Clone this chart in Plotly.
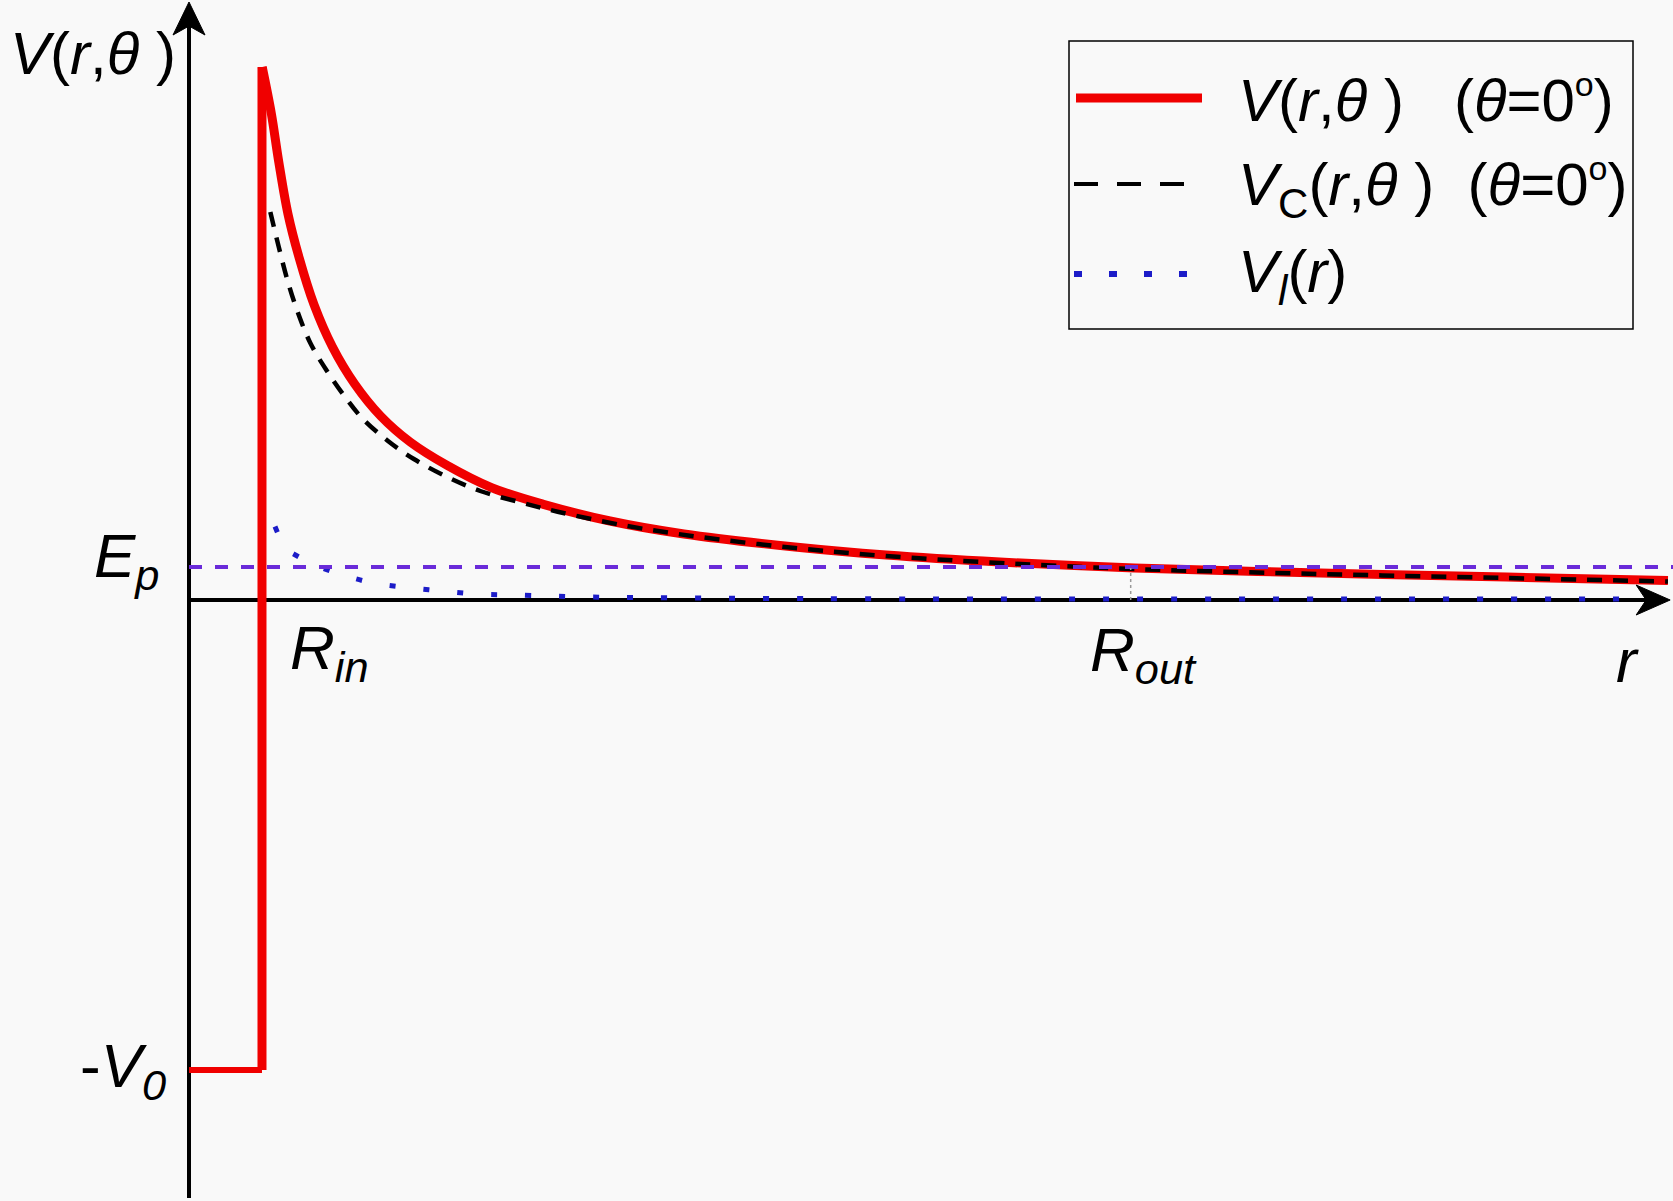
import plotly.graph_objects as go

# ---------------- data ----------------
R_IN = 1.0
R_OUT = 12.9
R_END = 20.29
V0 = 47.0
E_P = 3.3
V_PEAK = 53.3

# well + wall of V(r, theta)
r_well = [0.0, R_IN, R_IN]
V_well = [-V0, -V0, V_PEAK]

# barrier part of V(r, theta)  (theta = 0)
r_V = [1.003, 1.129, 1.23, 1.356, 1.51, 1.712, 1.966, 2.27, 2.625, 3.03, 3.537,
       4.145, 4.855, 5.767, 6.78, 8.30, 9.55, 11.11, 12.95, 15.5, 18.05, 20.26]
V_V = [53.3, 48.6, 43.8, 38.6, 34.2, 29.55, 25.3, 21.6, 18.4, 15.8, 13.46,
       11.24, 9.57, 7.9, 6.6, 5.3, 4.5, 3.8, 3.2, 2.7, 2.3, 1.95]

# Coulomb part V_C(r, theta)
r_C = [1.114, 1.23, 1.348, 1.484, 1.662, 1.89, 2.118, 2.37, 2.726, 3.08, 3.51,
       3.99, 4.548, 5.05, 6.0, 7.0, 8.3, 9.55, 11.11, 12.95, 15.5, 18.05, 20.26]
V_C = [38.8, 35.3, 32.0, 28.9, 25.7, 22.9, 20.5, 18.2, 15.9, 14.1, 12.4,
       10.9, 9.75, 8.83, 7.4, 6.3, 5.2, 4.4, 3.7, 3.1, 2.6, 2.2, 1.85]

# centrifugal part V_l(r)
r_l = [1.178, 1.34, 1.433, 1.712, 2.092, 2.52, 2.979, 3.46, 3.94, 4.45, 5.5,
       7.0, 10.0, 14.0, 20.26]
V_l = [7.35, 5.0, 4.6, 3.54, 2.54, 1.7, 1.25, 0.9, 0.6, 0.5, 0.3,
       0.2, 0.1, 0.1, 0.1]

V_AT_ROUT = 3.2

# ---------------- geometry helpers ----------------
W, H = 1673, 1201
X_RANGE = [-2.589, 20.329]
Y_RANGE = [-60.1, 60.0]


def px(x):
    return x / W


def py(y):
    return 1 - y / H


RED = "#f00000"
BLUE = "#1c1cc8"
EPCOL = "#6a2bd9"
FONT = "Liberation Sans, Arial, sans-serif"

fig = go.Figure()

# red: well and wall
fig.add_trace(go.Scatter(x=r_well[:2], y=V_well[:2], mode="lines",
                         line=dict(color=RED, width=6), hoverinfo="skip",
                         showlegend=False))
fig.add_trace(go.Scatter(x=r_well[1:], y=V_well[1:], mode="lines",
                         line=dict(color=RED, width=9), hoverinfo="skip",
                         showlegend=False))
# red barrier
fig.add_trace(go.Scatter(x=r_V, y=V_V, mode="lines", name="V(r,θ) (θ=0°)",
                         line=dict(color=RED, width=9, shape="spline",
                                   smoothing=1.0),
                         showlegend=False))
# black dashed Coulomb
fig.add_trace(go.Scatter(x=r_C, y=V_C, mode="lines", name="V_C(r,θ) (θ=0°)",
                         line=dict(color="black", width=4.5, dash="15px,11px",
                                   shape="spline", smoothing=1.0),
                         showlegend=False))
# blue dotted centrifugal
fig.add_trace(go.Scatter(x=r_l, y=V_l, mode="lines", name="V_l(r)",
                         line=dict(color=BLUE, width=5, dash="6px,28px",
                                   shape="spline", smoothing=1.0),
                         showlegend=False))
# E_p level
fig.add_trace(go.Scatter(x=[0, X_RANGE[1]], y=[E_P, E_P], mode="lines",
                         line=dict(color=EPCOL, width=4, dash="13px,13px"),
                         hoverinfo="skip", showlegend=False))
# R_out marker
fig.add_trace(go.Scatter(x=[R_OUT, R_OUT], y=[0, V_AT_ROUT], mode="lines",
                         line=dict(color="#999999", width=1.5, dash="dot"),
                         hoverinfo="skip", showlegend=False))

shapes = []
# axes lines
shapes.append(dict(type="line", xref="x", yref="y", x0=0, x1=R_END - 0.3,
                   y0=0, y1=0, line=dict(color="black", width=4),
                   layer="below"))
shapes.append(dict(type="line", xref="x", yref="y", x0=0, x1=0,
                   y0=Y_RANGE[0] + 0.3, y1=Y_RANGE[1] - 2.5,
                   line=dict(color="black", width=4), layer="below"))
# arrow heads
shapes.append(dict(type="path", xref="x", yref="y", xsizemode="pixel",
                   ysizemode="pixel", xanchor=R_END, yanchor=0,
                   path="M 0 0 L -34 15 L -24 0 L -34 -15 Z",
                   fillcolor="black", line=dict(color="black", width=1)))
shapes.append(dict(type="path", xref="x", yref="y", xsizemode="pixel",
                   ysizemode="pixel", xanchor=0, yanchor=Y_RANGE[1] - 0.2,
                   path="M 0 0 L -16 -33 L 0 -24 L 16 -33 Z",
                   fillcolor="black", line=dict(color="black", width=1)))
# legend box
shapes.append(dict(type="rect", xref="paper", yref="paper",
                   x0=px(1069), x1=px(1633), y0=py(41), y1=py(329),
                   line=dict(color="black", width=1.5), fillcolor="#f9f9f9",
                   layer="below"))
# legend samples
shapes.append(dict(type="line", xref="paper", yref="paper",
                   x0=px(1076), x1=px(1202), y0=py(98), y1=py(98),
                   line=dict(color=RED, width=9)))
shapes.append(dict(type="line", xref="paper", yref="paper",
                   x0=px(1074), x1=px(1184), y0=py(184), y1=py(184),
                   line=dict(color="black", width=4, dash="24px,19px")))
shapes.append(dict(type="line", xref="paper", yref="paper",
                   x0=px(1074), x1=px(1192), y0=py(274), y1=py(274),
                   line=dict(color=BLUE, width=6, dash="8px,27px")))

ann = []


def text(x, y, s, size=62, xanchor="left"):
    ann.append(dict(x=px(x), y=py(y), xref="paper", yref="paper", text=s,
                    showarrow=False, xanchor=xanchor, yanchor="middle",
                    font=dict(family=FONT, size=size, color="black")))


# axis labels
text(8, 53, "<i>V</i>(<i>r</i>,<i>θ</i> )", size=60)
text(162, 560, "<i>E</i><sub><i>p</i></sub>", xanchor="right")
text(168, 1070, "-<i>V</i><sub><i>0</i></sub>", xanchor="right")
text(288, 652, "<i>R</i><sub><i>in</i></sub>")
text(1088, 654, "<i>R</i><sub><i>out</i></sub>")
text(1614, 660, "<i>r</i>")
# legend texts
NB = "\u00a0"
SUP_O = "<sup><span style='font-size:34px'>o</span></sup>"
text(1236, 100, "<i>V</i>(<i>r</i>,<i>θ</i>" + NB + ")" + NB * 3 +
     "(<i>θ</i>=0" + SUP_O + ")", size=60)
text(1236, 188, "<i>V</i><sub>C</sub>(<i>r</i>,<i>θ</i>" + NB + ")" + NB * 2 +
     "(<i>θ</i>=0" + SUP_O + ")", size=60)
text(1236, 276, "<i>V</i><sub><i>l</i></sub>(<i>r</i>)", size=60)

fig.update_layout(
    width=W, height=H, margin=dict(l=0, r=0, t=0, b=0),
    paper_bgcolor="#f9f9f9", plot_bgcolor="#f9f9f9",
    xaxis=dict(range=X_RANGE, visible=False, fixedrange=True),
    yaxis=dict(range=Y_RANGE, visible=False, fixedrange=True),
    shapes=shapes, annotations=ann, showlegend=False,
)

fig.write_html("out.html", config={"displayModeBar": False},
               post_script="document.body.style.margin='0';"
                           "document.body.style.background='#f9f9f9';")
